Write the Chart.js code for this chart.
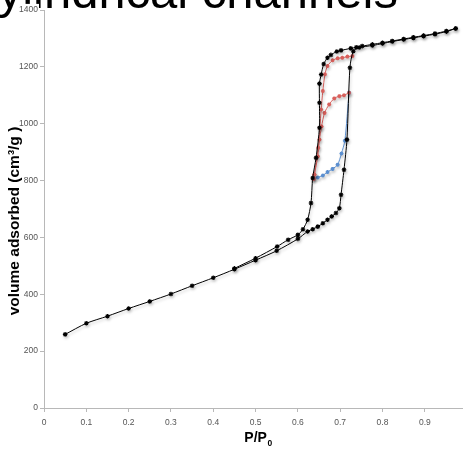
<!DOCTYPE html>
<html>
<head>
<meta charset="utf-8">
<script src="https://cdn.jsdelivr.net/npm/chart.js@4/dist/chart.umd.min.js"></script>
<style>
html,body{margin:0;padding:0;background:#fff;}
#wrap{width:468px;height:451px;}
</style>
</head>
<body>
<div id="wrap"><canvas id="c" width="468" height="451"></canvas></div>
<script>
// ---- data ----
const chartTitle = "Cylindrical channels";
const xTitleMain = "P/P";
const xTitleSub = "0";
const yTitle = "volume adsorbed (cm\u00B3/g )";

const adsP = [0.05,0.10,0.15,0.20,0.25,0.30,0.35,0.40,0.45,0.50,0.55,0.60,0.623,0.635,0.647,0.659,0.670,0.680,0.690,0.698,0.702,0.709,0.716,0.723,0.731,0.745,0.776,0.800,0.823,0.850,0.873,0.897,0.924,0.951,0.973];
const adsV = [259,298,323,350,375,401,430,458,488,520,553,595,621,629,638,650,662,674,686,703,750,838,944,1197,1255,1268,1275,1282,1289,1296,1302,1308,1315,1324,1335];

const desP = [0.973,0.951,0.924,0.897,0.873,0.850,0.823,0.800,0.776,0.752,0.738,0.725,0.702,0.692,0.678,0.670,0.661,0.655,0.651,0.651,0.651,0.643,0.635,0.631,0.623,0.612,0.600,0.577,0.551,0.50,0.45];
const desV = [1335,1326,1317,1310,1304,1298,1291,1285,1279,1273,1269,1265,1258,1254,1242,1232,1210,1173,1141,1074,986,880,809,721,662,629,609,592,568,527,491];

const redUpP = [0.729,0.717,0.705,0.694,0.682,0.670,0.664,0.659,0.655,0.652,0.648,0.639,0.637];
const redUpV = [1238,1236,1232,1230,1223,1203,1174,1115,1050,985,915,821,806];

const redLoP = [0.721,0.709,0.698,0.686,0.674,0.663,0.656,0.651,0.647,0.639,0.637];
const redLoV = [1109,1100,1097,1089,1068,1038,990,944,885,821,806];

const blueP = [0.637,0.647,0.659,0.670,0.682,0.694,0.703,0.711,0.721];
const blueV = [806,811,818,830,841,856,895,940,1109];

const xTicks = [0,0.1,0.2,0.3,0.4,0.5,0.6,0.7,0.8,0.9];
const yTicks = [0,200,400,600,800,1000,1200,1400];

// ---- build ----
function pts(xs, ys){ return xs.map((x,i)=>({x:x, y:ys[i]})); }
function ds(label, xs, ys, color, r){
  return {label:label, data:pts(xs,ys), showLine:true, borderColor:color, backgroundColor:color,
    borderWidth:1, pointStyle:'star', pointRadius:r, pointBorderWidth:1.1, pointBorderColor:color,
    tension:0.25, fill:false};
}

const shadowPlugin = {
  id:'shadow',
  beforeDatasetsDraw(chart){ const c=chart.ctx; c.save(); c.shadowColor='rgba(0,0,0,0.22)'; c.shadowBlur=3; c.shadowOffsetX=1; c.shadowOffsetY=2; },
  afterDatasetsDraw(chart){ chart.ctx.restore(); }
};

const textPlugin = {
  id:'texts',
  beforeDraw(chart){
    const c = chart.ctx;
    c.save();
    c.fillStyle = '#000';
    c.font = '49px "Liberation Sans", Arial, sans-serif';
    c.textAlign = 'right'; c.textBaseline = 'alphabetic';
    c.fillText(chartTitle, 398, 8);
    c.restore();
  },
  afterDraw(chart){
    const c = chart.ctx;
    c.save();
    c.fillStyle = '#000';
    c.font = 'bold 15.5px "Liberation Sans", Arial, sans-serif';
    c.translate(15, 221); c.rotate(-Math.PI/2);
    c.textAlign = 'center'; c.textBaseline = 'middle';
    c.fillText(yTitle, 0, 0);
    c.restore();
    c.save();
    c.fillStyle = '#000';
    c.font = 'bold 14px "Liberation Sans", Arial, sans-serif';
    const w1 = c.measureText(xTitleMain).width;
    c.font = 'bold 8.5px "Liberation Sans", Arial, sans-serif';
    const w2 = c.measureText(xTitleSub).width;
    const x0 = 258 - (w1 + w2)/2;
    c.textAlign = 'left'; c.textBaseline = 'alphabetic';
    c.font = 'bold 14px "Liberation Sans", Arial, sans-serif';
    c.fillText(xTitleMain, x0, 442);
    c.font = 'bold 8.5px "Liberation Sans", Arial, sans-serif';
    c.fillText(xTitleSub, x0 + w1 + 0.5, 446);
    c.restore();
  }
};

const tickFont = {family:'"Liberation Sans Narrow", "Liberation Sans", Arial, sans-serif', size:8.5};

new Chart(document.getElementById('c'), {
  type:'scatter',
  data:{datasets:[
    ds('adsorption', adsP, adsV, '#000000', 2.3),
    ds('desorption', desP, desV, '#000000', 2.3),
    ds('scan 1', redUpP, redUpV, '#d9605c', 2),
    ds('scan 2', redLoP, redLoV, '#d9605c', 2),
    ds('scan 3', blueP, blueV, '#5b8fd0', 2)
  ]},
  plugins:[shadowPlugin, textPlugin],
  options:{
    responsive:false, animation:false, devicePixelRatio:1,
    layout:{padding:{top:10,right:2,left:0,bottom:0}},
    plugins:{legend:{display:false}, tooltip:{enabled:false}, title:{display:false}},
    scales:{
      x:{type:'linear', min:0, max:0.99,
        afterBuildTicks(s){ s.ticks = xTicks.map(v=>({value:v})); },
        afterFit(s){ s.height = 43; },
        ticks:{font:tickFont, color:'#555', padding:6, maxRotation:0, autoSkip:false,
          callback:(v)=>String(v)},
        grid:{display:true, drawOnChartArea:false, drawTicks:true, tickLength:4, color:'#b8b8b8'},
        border:{display:true, color:'#b8b8b8', width:1},
        title:{display:false}
      },
      y:{type:'linear', min:0, max:1400,
        afterBuildTicks(s){ s.ticks = yTicks.map(v=>({value:v})); },
        afterFit(s){ s.width = 44; },
        ticks:{font:tickFont, color:'#555', padding:2, callback:(v)=>String(v),
          showLabelBackdrop:true, backdropColor:'#ffffff', backdropPadding:1},
        grid:{display:true, drawOnChartArea:false, drawTicks:true, tickLength:4, color:'#b8b8b8'},
        border:{display:true, color:'#b8b8b8', width:1},
        title:{display:false}
      }
    }
  }
});
</script>
</body>
</html>
